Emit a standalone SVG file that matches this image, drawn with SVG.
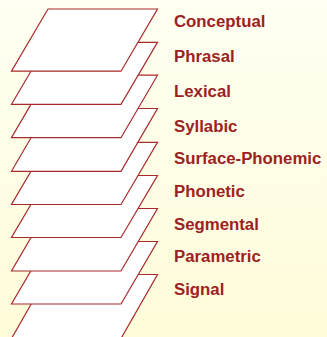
<svg xmlns="http://www.w3.org/2000/svg" width="327" height="337" viewBox="0 0 327 337">
<defs>
<linearGradient id="bg" x1="0" y1="0" x2="0" y2="1">
<stop offset="0" stop-color="#fffff3"/>
<stop offset="1" stop-color="#fffcd9"/>
</linearGradient>
<style>
.plane{fill:#ffffff;stroke:#a82a2a;stroke-width:1.2;stroke-linejoin:miter}
.lbl{font-family:"Liberation Sans",Arial,Helvetica,sans-serif;font-weight:bold;font-size:16.8px;fill:#9c2222}
</style>
</defs>
<rect x="0" y="0" width="327" height="337" fill="url(#bg)"/>
<g id="connectors"/>
<g id="signal"><polygon class="plane" points="48,274.5 157.5,274.5 121,338.5 11.5,338.5"/><text class="lbl" x="174" y="295">Signal</text></g>
<g id="parametric"><polygon class="plane" points="48,241.5 157.5,241.5 121,304 11.5,304"/><text class="lbl" x="174" y="262.3">Parametric</text></g>
<g id="segmental"><polygon class="plane" points="48,208.5 157.5,208.5 121,271 11.5,271"/><text class="lbl" x="174" y="230">Segmental</text></g>
<g id="phonetic"><polygon class="plane" points="48,175.5 157.5,175.5 121,237.5 11.5,237.5"/><text class="lbl" x="174" y="197.3">Phonetic</text></g>
<g id="surface-phonemic"><polygon class="plane" points="48,142.3 157.5,142.3 121,204.5 11.5,204.5"/><text class="lbl" x="174" y="164.3">Surface-Phonemic</text></g>
<g id="syllabic"><polygon class="plane" points="48,108.5 157.5,108.5 121,171.3 11.5,171.3"/><text class="lbl" x="174" y="131.7">Syllabic</text></g>
<g id="lexical"><polygon class="plane" points="48,75.2 157.5,75.2 121,137.7 11.5,137.7"/><text class="lbl" x="174" y="97.3">Lexical</text></g>
<g id="phrasal"><polygon class="plane" points="48,42.3 157.5,42.3 121,104.3 11.5,104.3"/><text class="lbl" x="174" y="62.3">Phrasal</text></g>
<g id="conceptual"><polygon class="plane" points="48,9 157.5,9 121,71.2 11.5,71.2"/><text class="lbl" x="174" y="27.3">Conceptual</text></g>
</svg>
